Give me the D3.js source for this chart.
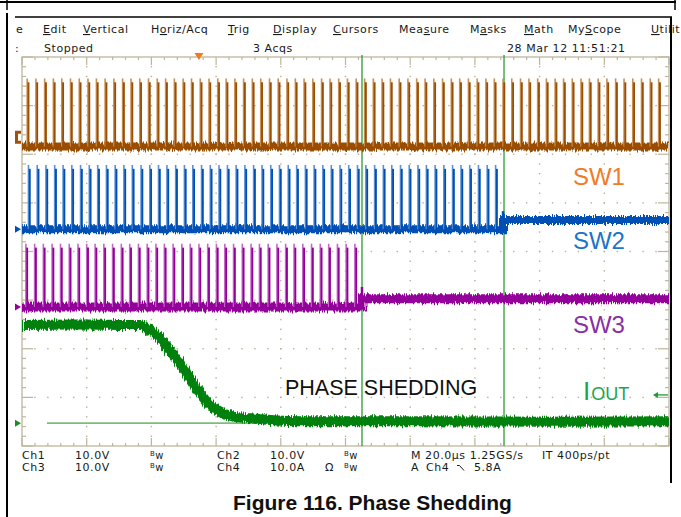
<!DOCTYPE html>
<html><head><meta charset="utf-8">
<script src="https://cdn.jsdelivr.net/npm/d3@7"></script>
<style>
html,body{margin:0;padding:0;background:#fff;}
svg{display:block;}
.ui{font-family:"DejaVu Sans",Verdana,sans-serif;font-size:11px;letter-spacing:0.55px;fill:#1a1a1a;}
.lbl{font-family:"Liberation Sans",Arial,sans-serif;}
</style></head><body>
<svg id="chart" width="681" height="517"></svg>
<script>
// ---------- acquisition data ----------
const timeRange = [0, 200];                 // µs over 10 divisions (20 µs/div)
const divRange = [-4, 4];                   // vertical divisions
const channelScale = [10, 10, 10, 10];      // V/div, V/div, V/div, A/div
const channelOffsetDiv = [2.36, 0.46, -1.14, -3.53]; // ground reference of each channel

const ch1Levels = [-2.0, 12.0];             // SW1 low / high (V)
const ch2Levels = [0.0, 13.2, 1.9];         // SW2 low / high / idle after shedding (V)
const ch3Levels = [0.0, 13.0, 1.7];         // SW3 low / high / idle after shedding (V)

const ch1Pulses = [1.6,4.3,7.0,9.7,12.3,15.0,17.7,20.4,23.0,25.7,28.4,31.1,33.7,36.4,39.1,41.8,44.4,47.1,49.8,52.4,
  55.1,57.8,60.5,63.1,65.8,68.5,71.2,73.8,76.5,79.2,81.9,84.5,87.2,89.9,92.6,95.2,97.9,100.6,103.3,105.9,
  108.6,111.3,113.9,116.6,119.3,122.0,124.6,127.3,130.0,132.7,135.3,138.0,140.7,143.4,146.0,148.7,151.4,154.1,156.7,159.4,
  162.1,164.8,167.4,170.1,172.8,175.4,178.1,180.8,183.5,186.1,188.8,191.5,194.2,196.8];
const ch2Pulses = [2.0,4.7,7.4,10.1,12.7,15.4,18.1,20.8,23.4,26.1,28.8,31.5,34.1,36.8,39.5,42.2,44.8,47.5,50.2,52.8,
  55.5,58.2,60.9,63.5,66.2,68.9,71.6,74.2,76.9,79.6,82.3,84.9,87.6,90.3,93.0,95.6,98.3,101.0,103.7,106.3,
  109.0,111.7,114.3,117.0,119.7,122.4,125.0,127.7,130.4,133.1,135.7,138.4,141.1,143.8,146.4];
const ch3Pulses = [1.2,3.9,6.6,9.3,11.9,14.6,17.3,20.0,22.6,25.3,28.0,30.7,33.3,36.0,38.7,41.4,44.0,46.7,49.4,52.0,
  54.7,57.4,60.1,62.7,65.4,68.1,70.8,73.4,76.1,78.8,81.5,84.1,86.8,89.5,92.2,94.8,97.5,100.2,102.9];
const ch2ShedTime = 148.7;                  // µs, SW2 stops switching
const ch3ShedTime = 105.1;                  // µs, SW3 stops switching
const shedOvershoot = [1.8, 2.4];           // V, ring at the step of SW2 / SW3

const ioutTime = [0, 20, 33, 36.5, 39.6, 42.7, 45.7, 48.8, 51.9, 55.0, 58.1, 61.2, 65.2, 70.5, 85.9, 120, 160, 200];
const ioutAmps = [20.2, 20.3, 20.2, 20.2, 19.1, 17.5, 15.0, 12.3, 9.3, 6.2, 3.7, 2.3, 1.4, 1.0, 0.4, 0.4, 0.3, 0.4];
const ioutRefStart = 7.7;                   // µs, start of the 0 A reference line

const cursorTimes = [105.1, 149.0];
const triggerTime = 54.7;
const triggerLevel = 5.8;                   // A, falling edge on Ch4

const menuItems = ["e","Edit","Vertical","Horiz/Acq","Trig","Display","Cursors","Measure","Masks","Math","MyScope","Utilit"];
const menuUnderline = [-1,0,0,1,0,0,0,3,1,0,2,0];
const menuX = [16,43,83,151,228,273,333,399,470,524,568,651];

// ---------- layout ----------
const svg = d3.select("#chart");
const plot = {left: 22, right: 669, top: 57, bottom: 446};
const x = d3.scaleLinear().domain(timeRange).range([plot.left, plot.right]);
const yDiv = d3.scaleLinear().domain(divRange).range([plot.bottom, plot.top]);
const yCh = i => v => yDiv(channelOffsetDiv[i] + v / channelScale[i]);

svg.append("rect").attr("width", 681).attr("height", 517).attr("fill", "#fff");

const defs = svg.append("defs");
defs.append("clipPath").attr("id", "plotClip").append("rect")
  .attr("x", plot.left).attr("y", plot.top - 2)
  .attr("width", plot.right - plot.left).attr("height", plot.bottom - plot.top + 4);
const jag = defs.append("filter").attr("id", "jag")
  .attr("filterUnits", "userSpaceOnUse").attr("x", 0).attr("y", 0).attr("width", 681).attr("height", 517);
jag.append("feTurbulence").attr("type", "fractalNoise").attr("baseFrequency", "0.9 0.05")
  .attr("numOctaves", 2).attr("seed", 7).attr("result", "noise");
jag.append("feDisplacementMap").attr("in", "SourceGraphic").attr("in2", "noise")
  .attr("scale", 7).attr("xChannelSelector", "A").attr("yChannelSelector", "G");

// ---------- window frame ----------
const frame = svg.append("g").attr("stroke", "#000").attr("fill", "none");
frame.append("line").attr("x1", 0).attr("y1", 2).attr("x2", 676).attr("y2", 2).attr("stroke-width", 2);
frame.append("line").attr("x1", 7).attr("y1", 0).attr("x2", 7).attr("y2", 10).attr("stroke-width", 1.5);
frame.append("line").attr("x1", 675).attr("y1", 0).attr("x2", 675).attr("y2", 10).attr("stroke-width", 1.5);
frame.append("line").attr("x1", 7).attr("y1", 13).attr("x2", 7).attr("y2", 517).attr("stroke-width", 2);
frame.append("line").attr("x1", 15).attr("y1", 17).attr("x2", 672).attr("y2", 17).attr("stroke-width", 1.5);
frame.append("line").attr("x1", 671).attr("y1", 17).attr("x2", 671).attr("y2", 483).attr("stroke-width", 2);

// ---------- menu and status ----------
menuItems.forEach((m, i) => {
  const t = svg.append("text").attr("class", "ui").attr("x", menuX[i]).attr("y", 33);
  const u = menuUnderline[i];
  if (u < 0) { t.text(m); return; }
  if (u > 0) t.append("tspan").text(m.slice(0, u));
  t.append("tspan").style("text-decoration", "underline").text(m[u]);
  t.append("tspan").text(m.slice(u + 1));
});
svg.append("text").attr("class", "ui").attr("x", 15).attr("y", 52).text(":");
svg.append("text").attr("class", "ui").attr("x", 44).attr("y", 52).text("Stopped");
svg.append("text").attr("class", "ui").attr("x", 253).attr("y", 52).text("3 Acqs");
svg.append("text").attr("class", "ui").attr("x", 507).attr("y", 52).text("28 Mar 12 11:51:21");

// ---------- graticule ----------
const grat = svg.append("g");
const gridCol = "#b8b094";
const edgeCol = "#bdb59c";
const minorT = d3.range(0, 200.001, 4);
const minorD = d3.range(-4, 4.001, 0.2);
const isMajorT = t => Math.abs(t / 20 - Math.round(t / 20)) < 1e-6;
const isMajorD = d => Math.abs(d - Math.round(d)) < 1e-6;
d3.range(20, 200, 20).forEach(t => {
  grat.selectAll(null).data(minorD.slice(1, -1)).join("rect")
    .attr("x", x(t) - 0.7).attr("y", d => yDiv(d) - 0.7).attr("width", 1.4).attr("height", 1.4).attr("fill", gridCol);
});
d3.range(-3, 4, 1).forEach(dv => {
  grat.selectAll(null).data(minorT.slice(1, -1)).join("rect")
    .attr("x", t => x(t) - 0.7).attr("y", yDiv(dv) - 0.7).attr("width", 1.4).attr("height", 1.4).attr("fill", gridCol);
});
grat.append("rect").attr("x", plot.left).attr("y", plot.top)
  .attr("width", plot.right - plot.left).attr("height", plot.bottom - plot.top)
  .attr("fill", "none").attr("stroke", edgeCol).attr("stroke-width", 1.3);
const tickG = grat.append("g").attr("stroke", edgeCol).attr("stroke-width", 1.2);
minorD.forEach(d => {
  const L = isMajorD(d) ? 11 : 4;
  tickG.append("line").attr("x1", plot.left).attr("x2", plot.left + L).attr("y1", yDiv(d)).attr("y2", yDiv(d));
  tickG.append("line").attr("x1", plot.right).attr("x2", plot.right - L).attr("y1", yDiv(d)).attr("y2", yDiv(d));
});
minorT.forEach(t => {
  const L = isMajorT(t) ? 8 : 3;
  tickG.append("line").attr("x1", x(t)).attr("x2", x(t)).attr("y1", plot.bottom).attr("y2", plot.bottom - L);
  tickG.append("line").attr("x1", x(t)).attr("x2", x(t)).attr("y1", plot.top).attr("y2", plot.top + L);
});

// ---------- cursors (behind the traces) ----------
svg.selectAll(null).data(cursorTimes).join("line")
  .attr("x1", d => x(d)).attr("x2", d => x(d)).attr("y1", plot.top - 2).attr("y2", plot.bottom)
  .attr("stroke", "#2e9a34").attr("stroke-width", 1.3);

// ---------- traces ----------
const traces = svg.append("g").attr("clip-path", "url(#plotClip)");
const line = d3.line().x(d => x(d[0])).y(d => d[1]);

function switchTrace(ch, pulses, levels, shedTime, overshoot, dark, light, bandW) {
  const y = yCh(ch);
  const g = traces.append("g");
  const band = shedTime == null
    ? [[timeRange[0], y(levels[0])], [timeRange[1], y(levels[0])]]
    : [[timeRange[0], y(levels[0])], [shedTime, y(levels[0])], [shedTime, y(levels[2])], [timeRange[1], y(levels[2])]];
  g.append("path").attr("d", line(band)).attr("fill", "none")
    .attr("stroke", dark).attr("stroke-width", bandW).attr("filter", "url(#jag)");
  if (shedTime != null) {
    g.append("line").attr("x1", x(shedTime)).attr("x2", x(shedTime))
      .attr("y1", y(levels[0])).attr("y2", y(levels[2] + overshoot))
      .attr("stroke", dark).attr("stroke-width", 2.5);
  }
  g.selectAll(".lt").data(pulses).join("line").attr("class", "lt")
    .attr("x1", d => x(d)).attr("x2", d => x(d))
    .attr("y1", y(levels[0])).attr("y2", y(levels[1]))
    .attr("stroke", light).attr("stroke-width", 1.6);
  g.selectAll(".dk").data(pulses).join("line").attr("class", "dk")
    .attr("x1", d => x(d + 0.4)).attr("x2", d => x(d + 0.4))
    .attr("y1", y(levels[0])).attr("y2", y(levels[1] - 0.8))
    .attr("stroke", dark).attr("stroke-width", 1.9);
}
switchTrace(0, ch1Pulses, ch1Levels, null, 0, "#9a4e00", "#c98f55", 8);
switchTrace(1, ch2Pulses, ch2Levels, ch2ShedTime, shedOvershoot[0], "#0050b4", "#5a90d6", 8);
switchTrace(2, ch3Pulses, ch3Levels, ch3ShedTime, shedOvershoot[1], "#93009a", "#c468c8", 9);

// output current
const yI = yCh(3);
traces.append("line").attr("x1", x(ioutRefStart)).attr("x2", x(timeRange[1]))
  .attr("y1", yI(0)).attr("y2", yI(0)).attr("stroke", "#7cbc7c").attr("stroke-width", 1.6);
const iLine = d3.line().x((d, i) => x(ioutTime[i])).y(d => yI(d)).curve(d3.curveMonotoneX);
traces.append("path").attr("d", iLine(ioutAmps)).attr("fill", "none")
  .attr("stroke", "#00800a").attr("stroke-width", 10).attr("filter", "url(#jag)");

// ---------- channel markers ----------
const markCols = ["#a0520a", "#0050b4", "#93009a", "#1f8a1f"];
markCols.forEach((c, i) => {
  const yy = yDiv(channelOffsetDiv[i]);
  if (i === 0) {
    svg.append("path").attr("d", `M15,${yy - 6}h6v3h-3v7h3v3h-6z`).attr("fill", c);
  } else {
    svg.append("path").attr("d", `M15,${yy - 3.5}L21,${yy}L15,${yy + 3.5}Z`).attr("fill", c);
  }
});
const tx = x(triggerTime);
svg.append("path").attr("d", `M${tx - 4.5},${plot.top - 4}L${tx + 4.5},${plot.top - 4}L${tx},${plot.top + 3}Z`).attr("fill", "#f47a20");
const ty = yI(triggerLevel);
const ag = svg.append("g").attr("stroke", "#1f9a3a").attr("fill", "#1f9a3a");
ag.append("line").attr("x1", plot.right - 15).attr("x2", plot.right - 1).attr("y1", ty).attr("y2", ty).attr("stroke-width", 1.3);
ag.append("path").attr("d", `M${plot.right - 16},${ty}L${plot.right - 11},${ty - 3}L${plot.right - 11},${ty + 3}Z`).attr("stroke", "none");

// ---------- trace labels ----------
const lab = (t, dv, txt, col, size) => svg.append("text").attr("class", "lbl")
  .attr("x", x(t)).attr("y", yDiv(dv)).attr("fill", col).attr("font-size", size).text(txt);
lab(170.3, 1.368, "SW1", "#f07a28", 24);
lab(170.3, 0.05, "SW2", "#1a74c8", 24);
lab(170.3, -1.677, "SW3", "#8a2ea6", 24);
lab(81.3, -2.953, "PHASE SHEDDING", "#111", 21.5);
const io = svg.append("text").attr("class", "lbl").attr("x", x(173.4)).attr("y", yDiv(-3.056)).attr("fill", "#1fa44e");
io.append("tspan").attr("font-size", 26).text("I");
io.append("tspan").attr("font-size", 18).attr("dx", 1).text("OUT");

// ---------- readouts ----------
const ro = (xx, yy, txt, col) => svg.append("text").attr("class", "ui").attr("x", xx).attr("y", yy)
  .attr("fill", col).attr("font-size", 10.5).text(txt);
const bw = (xx, yy, col) => {
  const t = svg.append("text").attr("class", "ui").attr("x", xx).attr("y", yy).attr("fill", col);
  t.append("tspan").attr("font-size", 7).attr("dy", -3).text("B");
  t.append("tspan").attr("font-size", 10).attr("dy", 3).text("w");
};
const cCh1 = "#b4651e", cCh2 = "#2f70c6", cCh3 = "#b233b2", cCh4 = "#22a03c";
ro(22, 459, "Ch1", cCh1); ro(75, 459, "10.0V", cCh1); bw(150, 459, cCh1);
ro(217, 459, "Ch2", cCh2); ro(270, 459, "10.0V", cCh2); bw(344, 459, cCh2);
ro(411, 459, "M 20.0µs 1.25GS/s", "#1a1a1a"); ro(542, 459, "IT 400ps/pt", "#1a1a1a");
ro(22, 471, "Ch3", cCh3); ro(75, 471, "10.0V", cCh3); bw(150, 471, cCh3);
ro(217, 471, "Ch4", cCh4); ro(270, 471, "10.0A", cCh4); ro(325, 471, "Ω", cCh4); bw(344, 471, cCh4);
ro(411, 471, "A", "#1a1a1a"); ro(426, 471, "Ch4", cCh4);
svg.append("path").attr("d", "M457,465.5h2.5l4.5,5").attr("fill", "none").attr("stroke", "#1a1a1a").attr("stroke-width", 1);
ro(474, 471, "5.8A", "#1a1a1a");

// ---------- caption ----------
svg.append("text").attr("class", "lbl").attr("x", 372.5).attr("y", 510).attr("text-anchor", "middle")
  .attr("font-size", 21).attr("font-weight", "bold").attr("fill", "#111").text("Figure 116. Phase Shedding");
</script>
</body></html>
